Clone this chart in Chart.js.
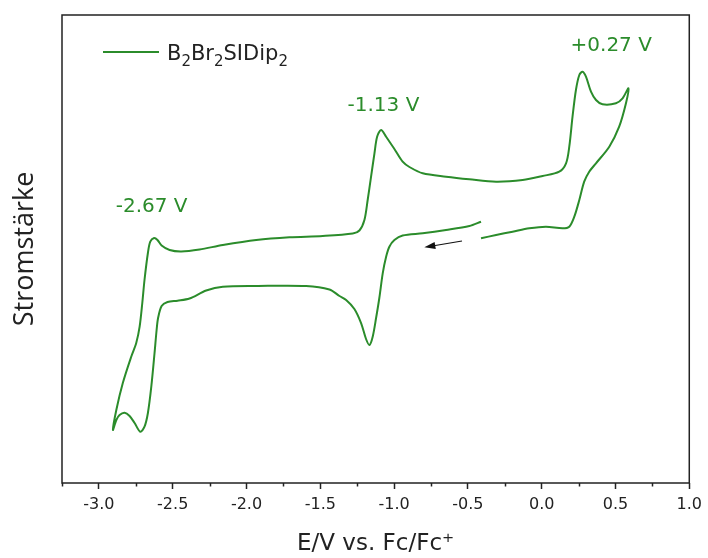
<!DOCTYPE html>
<html>
<head>
<meta charset="utf-8">
<script src="https://cdn.jsdelivr.net/npm/chart.js@4.4.1/dist/chart.umd.min.js"></script>
<style>
  html, body { margin: 0; padding: 0; background: #fff; }
  #wrap { width: 708px; height: 558px; }
</style>
</head>
<body>
<div id="wrap"><canvas id="canvas1"></canvas></div>
<script>
// cyclic voltammogram (current in arbitrary units)
const potential = [
  -0.411, -0.490, -0.648, -0.806, -0.942, -0.998, -1.032, -1.054, -1.077, -1.100,
  -1.122, -1.145, -1.167, -1.190, -1.223, -1.269, -1.325, -1.370, -1.438, -1.596,
  -1.934, -2.160, -2.273, -2.386, -2.467, -2.535, -2.575, -2.599, -2.609, -2.623,
  -2.645, -2.668, -2.691, -2.720, -2.758, -2.792, -2.826, -2.860, -2.882, -2.905,
  -2.882, -2.838, -2.781, -2.747, -2.724, -2.706, -2.691, -2.668, -2.652, -2.626,
  -2.603, -2.575, -2.521, -2.442, -2.318, -2.160, -1.934, -1.709, -1.483, -1.280,
  -1.235, -1.201, -1.179, -1.156, -1.133, -1.115, -1.088, -1.054, -0.998, -0.942,
  -0.896, -0.806, -0.648, -0.490, -0.309, -0.129, 0.006, 0.119, 0.165, 0.187,
  0.209, 0.232, 0.255, 0.277, 0.300, 0.334, 0.368, 0.412, 0.503, 0.548,
  0.588,
  0.571, 0.525, 0.458, 0.368, 0.322, 0.288, 0.255, 0.221, 0.187, 0.141,
  0.029, -0.084, -0.197, -0.309, -0.411
];
const current = [
  2.83, 2.40, 2.00, 1.67, 1.45, 1.00, 0.33, -0.67, -2.33, -4.8,
  -6.8, -8.67, -9.5, -8.9, -7.33, -5.9, -5.0, -4.6, -3.95, -3.6,
  -3.6, -3.67, -4.05, -4.85, -5.07, -5.2, -5.6, -6.8, -8.0, -10.3,
  -13.67, -16.3, -17.67, -18.17, -17.3, -16.6, -16.27, -16.5, -17.0, -18.0,
  -16.0, -13.3, -10.67, -9.3, -7.67, -5.3, -3.0, -0.3, 0.83, 1.2,
  1.0, 0.45, 0.0, -0.15, 0.05, 0.5, 1.0, 1.27, 1.4, 1.65,
  1.95, 3.0, 5.0, 7.33, 9.67, 11.33, 12.0, 11.33, 10.1, 8.83,
  8.3, 7.67, 7.33, 7.07, 6.83, 7.0, 7.4, 7.83, 8.67, 10.33,
  13.33, 16.0, 17.5, 17.83, 17.33, 15.83, 15.0, 14.57, 14.67, 15.17,
  16.17,
  14.67, 12.33, 10.33, 8.67, 7.83, 6.83, 5.0, 3.33, 2.33, 2.17,
  2.33, 2.17, 1.83, 1.5, 1.17
];

const seriesName = ['B', '2', 'Br', '2', 'SIDip', '2'];   // odd parts are subscripts
const peakLabels = ['-2.67 V', '-1.13 V', '+0.27 V'];
const peakLabelAt = [[-2.643, 4.3], [-1.072, 14.4], [0.471, 20.4]];
const scanArrow = [[-0.540, 0.9], [-0.795, 0.27]];

const green = '#2b8c2b';
const ink = '#222';

const extras = {
  id: 'extras',
  afterDraw(chart) {
    const { ctx, chartArea: a, scales: { x, y } } = chart;
    ctx.save();

    // box round the plot
    ctx.strokeStyle = ink;
    ctx.lineWidth = 1.5;
    ctx.strokeRect(a.left, a.top, a.right - a.left, a.bottom - a.top);

    // minor ticks every 0.25 V
    for (let v = x.min; v < x.max; v += 0.5) {
      const px = Math.round(x.getPixelForValue(v)) + 0.5;
      ctx.beginPath();
      ctx.moveTo(px, a.bottom);
      ctx.lineTo(px, a.bottom + 3.5);
      ctx.stroke();
    }

    // legend
    const lx = a.left + 41, ly = a.top + 37;
    ctx.strokeStyle = green;
    ctx.lineWidth = 2;
    ctx.beginPath();
    ctx.moveTo(lx, ly);
    ctx.lineTo(lx + 56, ly);
    ctx.stroke();
    ctx.fillStyle = ink;
    ctx.textBaseline = 'alphabetic';
    ctx.textAlign = 'left';
    let tx = lx + 64;
    seriesName.forEach((part, i) => {
      const sub = i % 2 === 1;
      ctx.font = (sub ? '15px' : '21px') + ' "DejaVu Sans"';
      ctx.fillText(part, tx, ly + 8 + (sub ? 6 : 0));
      tx += ctx.measureText(part).width;
    });

    // peak potentials
    ctx.fillStyle = green;
    ctx.font = '20px "DejaVu Sans"';
    ctx.textAlign = 'center';
    ctx.textBaseline = 'middle';
    peakLabels.forEach((t, i) => {
      ctx.fillText(t, x.getPixelForValue(peakLabelAt[i][0]), y.getPixelForValue(peakLabelAt[i][1]));
    });

    // scan direction arrow
    const x0 = x.getPixelForValue(scanArrow[0][0]), y0 = y.getPixelForValue(scanArrow[0][1]);
    const x1 = x.getPixelForValue(scanArrow[1][0]), y1 = y.getPixelForValue(scanArrow[1][1]);
    const ang = Math.atan2(y1 - y0, x1 - x0);
    ctx.strokeStyle = '#111';
    ctx.fillStyle = '#111';
    ctx.lineWidth = 1.2;
    ctx.beginPath();
    ctx.moveTo(x0, y0);
    ctx.lineTo(x1 - 8 * Math.cos(ang), y1 - 8 * Math.sin(ang));
    ctx.stroke();
    ctx.beginPath();
    ctx.moveTo(x1, y1);
    ctx.lineTo(x1 - 11 * Math.cos(ang) + 3.5 * Math.sin(ang), y1 - 11 * Math.sin(ang) - 3.5 * Math.cos(ang));
    ctx.lineTo(x1 - 11 * Math.cos(ang) - 3.5 * Math.sin(ang), y1 - 11 * Math.sin(ang) + 3.5 * Math.cos(ang));
    ctx.closePath();
    ctx.fill();

    ctx.restore();
  }
};

new Chart(document.getElementById('canvas1'), {
  type: 'scatter',
  data: {
    datasets: [{
      label: 'B2Br2SIDip2',
      data: potential.map((e, i) => ({ x: e, y: current[i] })),
      showLine: true,
      borderColor: green,
      borderWidth: 2,
      pointRadius: 0,
      tension: 0.3,
      fill: false
    }]
  },
  options: {
    responsive: true,
    maintainAspectRatio: false,
    animation: false,
    layout: { padding: { top: 15, right: 18, bottom: 0, left: 0 } },
    plugins: {
      legend: { display: false },
      tooltip: { enabled: false }
    },
    scales: {
      x: {
        type: 'linear',
        min: -3.25,
        max: 1.0,
        afterFit: (scale) => { scale.height = 75; },
        ticks: {
          stepSize: 0.5,
          includeBounds: false,
          padding: 6,
          color: ink,
          font: { family: 'DejaVu Sans', size: 16 },
          callback: (v) => v.toFixed(1)
        },
        grid: {
          display: true,
          drawOnChartArea: false,
          drawTicks: true,
          tickLength: 6,
          tickColor: ink,
          tickWidth: 1.5
        },
        border: { display: false },
        title: {
          display: true,
          text: 'E/V vs. Fc/Fc⁺',
          color: ink,
          font: { family: 'DejaVu Sans', size: 23 },
          padding: { top: 0, bottom: 0 }
        }
      },
      y: {
        type: 'linear',
        min: -23.3,
        max: 23.5,
        afterFit: (scale) => { scale.width = 62; },
        ticks: { display: false },
        grid: { display: false },
        border: { display: false },
        title: {
          display: true,
          text: 'Stromstärke',
          color: ink,
          font: { family: 'Open Sans', size: 27 },
          padding: { top: 9, bottom: 0 }
        }
      }
    }
  },
  plugins: [extras]
});
</script>
</body>
</html>
